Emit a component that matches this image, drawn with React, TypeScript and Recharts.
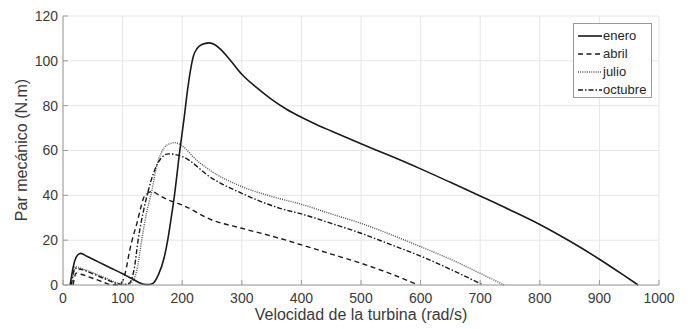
import { LineChart, Line, XAxis, YAxis, CartesianGrid } from 'recharts'

// (rad/s, N.m) pairs
const enero = [
  [12, 0], [15, 5], [20, 11], [25, 13.5], [30, 14.1], [40, 12.8], [60, 10.2], [80, 7.6],
  [100, 5], [110, 3.6], [120, 2.2], [130, 0.8], [140, 0.2], [150, 0.6], [160, 4.5],
  [170, 12.5], [175, 19], [181, 29], [187, 40], [196, 60], [203, 74], [209, 87],
  [214, 96], [219, 102.3], [225, 105.5], [233, 107.3], [245, 108], [255, 107.2],
  [265, 105], [280, 100.5], [300, 94], [325, 88], [350, 82.8], [375, 78.4],
  [400, 74.8], [425, 71.6], [450, 68.7], [500, 63], [550, 57.5], [600, 51.8], [650, 45.8],
  [700, 39.7], [750, 33.5], [800, 27], [850, 19.6], [900, 11.5], [940, 4.5], [965, 0],
]
const abril = [
  [17, 0], [19, 3], [22, 5.3], [30, 4.8], [50, 3], [70, 1], [78, 0.2], [90, 0.1],
  [98, 1], [105, 6], [112, 15.6], [118, 22], [124, 27.5], [130, 34], [135, 38.7],
  [142, 41], [149, 41.7], [160, 40.3], [172, 38.5], [200, 35.7], [250, 29], [300, 25.3],
  [364, 20.8], [400, 17.9], [450, 13.8], [500, 9.7], [550, 5], [596, 0],
]
const julio = [
  [14, 0], [17, 5], [20, 8.2], [30, 7.5], [50, 5.5], [70, 3.3], [90, 1], [100, 0.3],
  [108, 0.2], [115, 1], [125, 8], [132, 20], [140, 32], [149, 42], [157, 53],
  [165, 59], [175, 62.5], [188, 63.5], [200, 62], [225, 55.5], [250, 50.6], [300, 43.9],
  [350, 39.5], [400, 36], [450, 31.7], [500, 27.5], [550, 22.5], [600, 17.1],
  [650, 11.5], [700, 5.2], [740, 0],
]
const octubre = [
  [14, 0], [17, 4.5], [20, 7.5], [30, 7], [50, 5], [70, 2.8], [90, 0.7], [100, 0.2],
  [106, 0.3], [112, 1], [120, 8], [126, 20], [135, 33], [143, 42], [152, 50],
  [163, 56], [177, 58.5], [200, 57.3], [250, 47.6], [300, 40.9], [364, 34.2],
  [400, 31.7], [450, 27.5], [500, 23.1], [550, 18], [600, 12.9], [650, 7], [705, 0],
]

const xTicks = [0, 100, 200, 300, 400, 500, 600, 700, 800, 900, 1000]
const yTicks = [0, 20, 40, 60, 80, 100, 120]

const toRows = (pts: number[][]) => pts.map(([x, y]) => ({ x, y }))

const series = [
  { name: 'enero', pts: enero, stroke: '#1a1a1a', width: 1.6, dash: undefined },
  { name: 'abril', pts: abril, stroke: '#1a1a1a', width: 1.4, dash: '5 3.5' },
  { name: 'julio', pts: julio, stroke: '#555555', width: 1.4, dash: '1 1.2' },
  { name: 'octubre', pts: octubre, stroke: '#1a1a1a', width: 1.4, dash: '5 2 1.5 2' },
]

const FONT = '"Liberation Sans", Arial, Helvetica, sans-serif'
const TEXT = '#3a3a3a'
const AXIS = '#9a9a9a'

function ChartLegend() {
  return (
    <div
      style={{
        position: 'absolute',
        left: 573,
        top: 23,
        width: 77,
        height: 73,
        background: '#fff',
        border: '1px solid #9a9a9a',
        fontFamily: FONT,
        fontSize: 13,
        color: '#262626',
      }}
    >
      {series.map((s, i) => (
        <div
          key={s.name}
          style={{ position: 'absolute', left: 4, top: 4 + i * 18, height: 16, display: 'flex', alignItems: 'center' }}
        >
          <svg width={24} height={16}>
            <line x1={0} x2={24} y1={8} y2={8} stroke={s.stroke} strokeWidth={s.width} strokeDasharray={s.dash} />
          </svg>
          <span style={{ marginLeft: 1, lineHeight: '16px' }}>{s.name}</span>
        </div>
      ))}
    </div>
  )
}

export default function App() {
  return (
    <div style={{ position: 'relative', width: 688, height: 329, background: '#fff' }}>
      <style>{`body { margin: 0; background: #fff; }`}</style>
      <LineChart width={688} height={329} margin={{ top: 16, right: 29, bottom: 14, left: 23 }}>
        <CartesianGrid stroke="#e6e6e6" strokeWidth={1} />
        <XAxis
          dataKey="x"
          type="number"
          domain={[0, 1000]}
          ticks={xTicks}
          allowDataOverflow
          height={30}
          stroke={AXIS}
          tickSize={-5}
          tickMargin={13}
          tick={{ fill: TEXT, fontSize: 14, fontFamily: FONT }}
          label={() => (
            <text x={361} y={320} textAnchor="middle" fill={TEXT} fontSize={16} fontFamily={FONT}>
              Velocidad de la turbina (rad/s)
            </text>
          )}
        />
        <XAxis
          xAxisId="top"
          orientation="top"
          type="number"
          domain={[0, 1000]}
          ticks={xTicks}
          height={0}
          stroke={AXIS}
          tickSize={-5}
          tickFormatter={() => ''}
        />
        <YAxis
          type="number"
          domain={[0, 120]}
          ticks={yTicks}
          width={40}
          stroke={AXIS}
          tickSize={-5}
          tickMargin={10}
          tick={{ fill: TEXT, fontSize: 14, fontFamily: FONT }}
          label={() => (
            <text
              x={27}
              y={150}
              textAnchor="middle"
              fill={TEXT}
              fontSize={16}
              fontFamily={FONT}
              transform="rotate(-90 27 150)"
            >
              Par mecánico (N.m)
            </text>
          )}
        />
        <YAxis
          yAxisId="right"
          orientation="right"
          type="number"
          domain={[0, 120]}
          ticks={yTicks}
          width={0}
          stroke={AXIS}
          tickSize={-5}
          tickFormatter={() => ''}
        />
        {series.map((s) => (
          <Line
            key={s.name}
            data={toRows(s.pts)}
            dataKey="y"
            name={s.name}
            type="monotone"
            stroke={s.stroke}
            strokeWidth={s.width}
            strokeDasharray={s.dash}
            dot={false}
            activeDot={false}
            isAnimationActive={false}
          />
        ))}
      </LineChart>
      <ChartLegend />
    </div>
  )
}
